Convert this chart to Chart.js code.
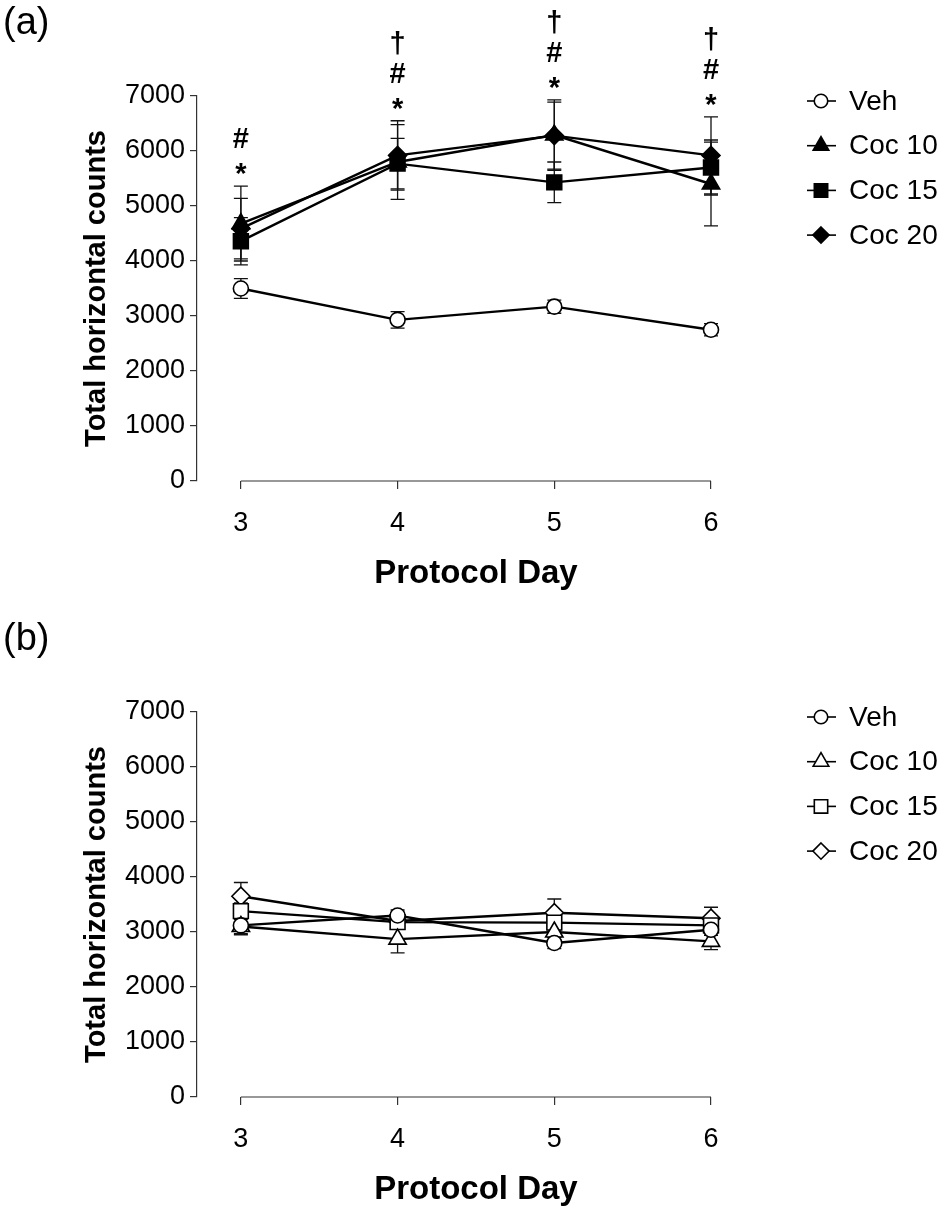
<!DOCTYPE html>
<html>
<head>
<meta charset="utf-8">
<script src="https://cdn.jsdelivr.net/npm/chart.js@4.4.0/dist/chart.umd.min.js"></script>
<style>
  html, body { margin: 0; padding: 0; background: #fff; overflow: hidden; }
  .panel { position: absolute; left: 0; width: 945px; }
  #panelA { top: 0; height: 616px; }
  #panelB { top: 616px; height: 591px; }
</style>
</head>
<body>
<div class="panel" id="panelA"><canvas id="chartA"></canvas></div>
<div class="panel" id="panelB"><canvas id="chartB"></canvas></div>
<script>
// data (mean and SEM per protocol day)
const days = [3, 4, 5, 6];
const seriesNames = ['Veh', 'Coc 10', 'Coc 15', 'Coc 20'];
const markerStyles = ['circle', 'triangle', 'rect', 'rectRot'];

// panel (a)
const vehA = [3500, 2930, 3170, 2750];
const vehAErr = [180, 150, 120, 110];
const coc10A = [4680, 5800, 6290, 5400];
const coc10AErr = [680, 680, 640, 760];
const coc15A = [4360, 5770, 5430, 5700];
const coc15AErr = [430, 460, 370, 500];
const coc20A = [4590, 5920, 6280, 5920];
const coc20AErr = [550, 630, 610, 700];
const marksA = [['*', '#'], ['*', '#', '†'], ['*', '#', '†'], ['*', '#', '†']];

// panel (b)
const vehB = [3120, 3300, 2800, 3040];
const vehBErr = [150, 100, 100, 100];
const coc10B = [3100, 2870, 3000, 2830];
const coc10BErr = [150, 250, 150, 150];
const coc15B = [3380, 3180, 3170, 3120];
const coc15BErr = [150, 120, 150, 120];
const coc20B = [3650, 3200, 3350, 3250];
const coc20BErr = [250, 120, 250, 200];

const FONT = '"Liberation Sans", Arial, sans-serif';
const markerRadius = [7.5, 10, 10.5, 9];

function drawMarker(ctx, style, x, y, r, fill) {
    ctx.beginPath();
    if (style === 'circle') {
        ctx.arc(x, y, r, 0, Math.PI * 2);
    } else if (style === 'triangle') {
        const s = Math.sin(Math.PI / 3) * r;
        ctx.moveTo(x, y - r);
        ctx.lineTo(x + s, y + r / 2);
        ctx.lineTo(x - s, y + r / 2);
        ctx.closePath();
    } else if (style === 'rect') {
        const h = Math.SQRT1_2 * r;
        ctx.rect(x - h, y - h, 2 * h, 2 * h);
    } else {
        ctx.moveTo(x, y - r);
        ctx.lineTo(x + r, y);
        ctx.lineTo(x, y + r);
        ctx.lineTo(x - r, y);
        ctx.closePath();
    }
    ctx.fillStyle = fill;
    ctx.fill();
    ctx.stroke();
}

// SEM bars, under the markers
const errorBars = {
    id: 'errorBars',
    beforeDatasetsDraw(chart) {
        const {ctx, scales: {x, y}} = chart;
        ctx.save();
        ctx.strokeStyle = '#111';
        ctx.lineWidth = 1.3;
        chart.data.datasets.forEach(ds => {
            ds.data.forEach((p, i) => {
                const e = ds.errors[i];
                const px = x.getPixelForValue(p.x);
                const top = y.getPixelForValue(p.y + e);
                const bot = y.getPixelForValue(p.y - e);
                ctx.beginPath();
                ctx.moveTo(px, top); ctx.lineTo(px, bot);
                ctx.moveTo(px - 7, top); ctx.lineTo(px + 7, top);
                ctx.moveTo(px - 7, bot); ctx.lineTo(px + 7, bot);
                ctx.stroke();
            });
        });
        ctx.restore();
    }
};

// x axis line only between first and last day, x title, panel tag, legend, marks
const extras = {
    id: 'extras',
    afterDraw(chart, args, opts) {
        const {ctx, chartArea, scales: {x, y}} = chart;
        const x0 = x.getPixelForValue(days[0]);
        const x1 = x.getPixelForValue(days[days.length - 1]);
        ctx.save();
        ctx.strokeStyle = '#333';
        ctx.lineWidth = 1.2;
        ctx.beginPath();
        ctx.moveTo(x0, chartArea.bottom);
        ctx.lineTo(x1, chartArea.bottom);
        ctx.stroke();

        ctx.fillStyle = '#000';
        ctx.textAlign = 'center';
        ctx.textBaseline = 'middle';
        ctx.font = 'bold 33px ' + FONT;
        ctx.fillText('Protocol Day', (x0 + x1) / 2, chartArea.bottom + 93);

        ctx.textAlign = 'left';
        ctx.font = '38px ' + FONT;
        ctx.fillText(opts.tag, 3, 24);

        // legend
        ctx.font = '28px ' + FONT;
        chart.data.datasets.forEach((ds, i) => {
            const cy = 101 + i * 44.7;
            ctx.strokeStyle = '#000';
            ctx.lineWidth = 1.6;
            ctx.beginPath();
            ctx.moveTo(807, cy);
            ctx.lineTo(836, cy);
            ctx.stroke();
            drawMarker(ctx, ds.pointStyle, 821, cy, ds.pointRadius * 0.9, ds.pointBackgroundColor);
            ctx.fillStyle = '#000';
            ctx.fillText(ds.label, 849, cy + 1);
        });

        // significance marks above the highest bar of each day
        if (opts.marks) {
            ctx.textAlign = 'center';
            ctx.textBaseline = 'alphabetic';
            ctx.font = 'bold 29px ' + FONT;
            const lift = {'*': 3, '#': 38, '†': 68};
            opts.marks.forEach((list, i) => {
                let top = Infinity;
                chart.data.datasets.forEach(ds => {
                    top = Math.min(top, y.getPixelForValue(ds.data[i].y + ds.errors[i]));
                });
                const px = x.getPixelForValue(days[i]);
                list.forEach(m => ctx.fillText(m, px, top - lift[m]));
            });
        }
        ctx.restore();
    }
};

function buildDatasets(values, errors, filled) {
    return seriesNames.map((name, k) => ({
        label: name,
        data: days.map((d, i) => ({x: d, y: values[k][i]})),
        errors: errors[k],
        borderColor: '#000',
        borderWidth: 2.4,
        pointStyle: markerStyles[k],
        pointRadius: markerRadius[k],
        pointBackgroundColor: (filled && k > 0) ? '#000' : '#fff',
        pointBorderColor: '#000',
        pointBorderWidth: 1.6,
        clip: false,
        tension: 0
    }));
}

function makeChart(canvasId, height, datasets, tag, marks) {
    const ctx = document.getElementById(canvasId).getContext('2d');
    return new Chart(ctx, {
        type: 'line',
        data: {datasets: datasets},
        options: {
            responsive: true,
            maintainAspectRatio: false,
            animation: false,
            events: [],
            layout: {padding: {top: 96, right: 234, left: 0, bottom: 0}},
            scales: {
                x: {
                    type: 'linear',
                    min: 2.72,
                    max: 6,
                    afterBuildTicks: s => { s.ticks = days.map(v => ({value: v})); },
                    afterFit: s => { s.height = height - 481; },
                    border: {display: false},
                    grid: {drawOnChartArea: false, drawTicks: true, tickLength: 8, color: '#333', lineWidth: 1.2},
                    ticks: {font: {family: FONT, size: 27}, color: '#000', padding: 18, callback: v => String(v)}
                },
                y: {
                    min: 0,
                    max: 7000,
                    afterFit: s => { s.width = 197; },
                    border: {display: true, color: '#333', width: 1.2},
                    grid: {drawOnChartArea: false, tickLength: 7, color: '#333', lineWidth: 1.2},
                    ticks: {stepSize: 1000, font: {family: FONT, size: 27}, color: '#000', padding: 5, callback: v => String(v)},
                    title: {
                        display: true,
                        text: 'Total horizontal counts',
                        color: '#000',
                        font: {family: FONT, size: 29, weight: 'bold'},
                        padding: {top: 80, bottom: 0}
                    }
                }
            },
            plugins: {
                legend: {display: false},
                tooltip: {enabled: false},
                extras: {tag: tag, marks: marks}
            }
        },
        plugins: [errorBars, extras]
    });
}

makeChart('chartA', 616,
    buildDatasets([vehA, coc10A, coc15A, coc20A], [vehAErr, coc10AErr, coc15AErr, coc20AErr], true),
    '(a)', marksA);

makeChart('chartB', 591,
    buildDatasets([vehB, coc10B, coc15B, coc20B], [vehBErr, coc10BErr, coc15BErr, coc20BErr], false),
    '(b)', null);
</script>
</body>
</html>
